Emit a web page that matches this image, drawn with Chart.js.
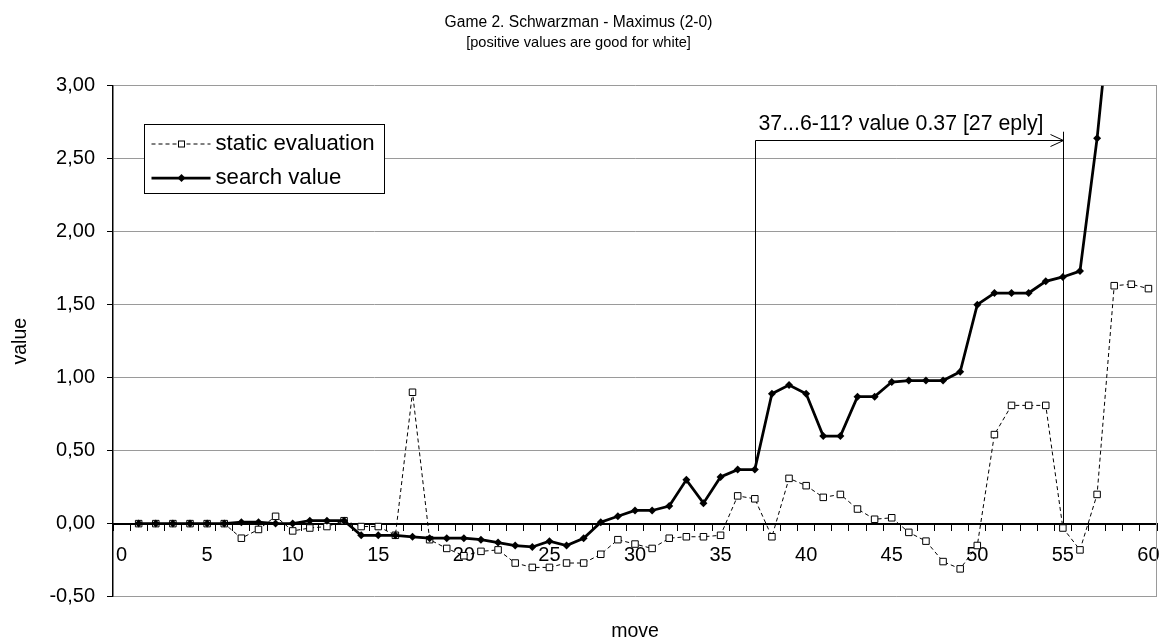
<!DOCTYPE html>
<html>
<head>
<meta charset="utf-8">
<script src="https://cdn.jsdelivr.net/npm/chart.js@4/dist/chart.umd.min.js"></script>
<style>
html,body{margin:0;padding:0;background:#fff;}
#wrap{width:1166px;height:643px;position:relative;}
</style>
</head>
<body>
<div id="wrap"><canvas id="c"></canvas></div>
<script>
// ---- data ----
const categoryLabels = [0,1,2,3,4,5,6,7,8,9,10,11,12,13,14,15,16,17,18,19,20,21,22,23,24,25,26,27,28,29,30,31,32,33,34,35,36,37,38,39,40,41,42,43,44,45,46,47,48,49,50,51,52,53,54,55,56,57,58,59,60];
const moves = [1,2,3,4,5,6,7,8,9,10,11,12,13,14,15,16,17,18,19,20,21,22,23,24,25,26,27,28,29,30,31,32,33,34,35,36,37,38,39,40,41,42,43,44,45,46,47,48,49,50,51,52,53,54,55,56,57,58,59,60];
const staticEval = [0,0,0,0,0,0,-0.10,-0.04,0.05,-0.05,
  -0.03,-0.02,0.02,-0.02,-0.02,-0.08,0.90,-0.11,-0.17,-0.22,
  -0.19,-0.18,-0.27,-0.30,-0.30,-0.27,-0.27,-0.21,-0.11,-0.14,
  -0.17,-0.10,-0.09,-0.09,-0.08,0.19,0.17,-0.09,0.31,0.26,
  0.18,0.20,0.10,0.03,0.04,-0.06,-0.12,-0.26,-0.31,-0.15,
  0.61,0.81,0.81,0.81,-0.03,-0.18,0.20,1.63,1.64,1.61];
const searchValue = [0,0,0,0,0,0,0.01,0.01,0.00,0.00,
  0.02,0.02,0.02,-0.08,-0.08,-0.08,-0.09,-0.10,-0.10,-0.10,
  -0.11,-0.13,-0.15,-0.16,-0.12,-0.15,-0.10,0.01,0.05,0.09,
  0.09,0.12,0.30,0.14,0.32,0.37,0.37,0.89,0.95,0.89,
  0.60,0.60,0.87,0.87,0.97,0.98,0.98,0.98,1.04,1.50,
  1.58,1.58,1.58,1.66,1.69,1.73,2.64,3.80,null,null];
const yMin = -0.5, yMax = 3.0, yStep = 0.5;
const seriesNames = ['static evaluation', 'search value'];
const titleText = 'Game 2. Schwarzman - Maximus (2-0)';
const subtitleText = '[positive values are good for white]';
const annText = '37...6-11? value 0.37 [27 eply]';
const annFrom = 37, annTo = 55;
const annArrowValue = 2.63, annRightTopValue = 2.685, annTextValue = 2.70;

const FONT = "'Liberation Sans', Arial, Helvetica, sans-serif";
Chart.defaults.font.family = FONT;
Chart.defaults.color = '#000';

const fmt = v => v.toFixed(2).replace('.', ',');
const toPoints = arr => moves.map((m, i) => ({x: m, y: arr[i]}));

const GRID = '#9a9a9a';

const borderPlugin = {
  id: 'plotBorder',
  beforeDatasetsDraw(chart) {
    const {ctx, chartArea: a} = chart;
    ctx.save();
    ctx.strokeStyle = GRID;
    ctx.lineWidth = 1;
    ctx.beginPath();
    ctx.moveTo(Math.round(a.right) - 0.5, a.top);
    ctx.lineTo(Math.round(a.right) - 0.5, a.bottom);
    ctx.stroke();
    ctx.restore();
  }
};

function drawSquare(ctx, x, y, s) {
  ctx.save();
  ctx.fillStyle = '#fff';
  ctx.strokeStyle = '#000';
  ctx.lineWidth = 1;
  ctx.fillRect(x - s/2, y - s/2, s, s);
  ctx.strokeRect(x - s/2, y - s/2, s, s);
  ctx.restore();
}
function drawDiamond(ctx, x, y, r) {
  ctx.save();
  ctx.fillStyle = '#000';
  ctx.beginPath();
  ctx.moveTo(x, y - r); ctx.lineTo(x + r, y); ctx.lineTo(x, y + r); ctx.lineTo(x - r, y);
  ctx.closePath();
  ctx.fill();
  ctx.restore();
}

const legendPlugin = {
  id: 'boxLegend',
  afterDraw(chart) {
    const {ctx, chartArea: a} = chart;
    const bx = Math.round(a.left + 31) + 0.5, by = Math.round(a.top + 38) + 0.5, bw = 240, bh = 69;
    ctx.save();
    ctx.fillStyle = '#fff';
    ctx.fillRect(bx, by, bw, bh);
    ctx.strokeStyle = '#000';
    ctx.lineWidth = 1;
    ctx.strokeRect(bx, by, bw, bh);
    const rows = [by + 19.5, by + 53.5];
    const ds = chart.data.datasets;
    ctx.strokeStyle = '#000';
    ctx.lineWidth = 1;
    ctx.setLineDash([4, 3]);
    ctx.beginPath(); ctx.moveTo(bx + 7, rows[0]); ctx.lineTo(bx + 66, rows[0]); ctx.stroke();
    ctx.setLineDash([]);
    drawSquare(ctx, bx + 37, rows[0], 6);
    ctx.lineWidth = 2.75;
    ctx.beginPath(); ctx.moveTo(bx + 7, rows[1]); ctx.lineTo(bx + 66, rows[1]); ctx.stroke();
    drawDiamond(ctx, bx + 37, rows[1], 4);
    ctx.fillStyle = '#000';
    ctx.font = '22.2px ' + FONT;
    ctx.textBaseline = 'middle';
    ctx.textAlign = 'left';
    ctx.fillText(ds[1].label, bx + 71, rows[0]);
    ctx.fillText(ds[0].label, bx + 71, rows[1]);
    ctx.restore();
  }
};

const annotationPlugin = {
  id: 'moveAnnotation',
  afterDatasetsDraw(chart) {
    const {ctx} = chart;
    const xs = chart.scales.x, ys = chart.scales.y;
    const x1 = Math.round(xs.getPixelForValue(annFrom)) + 0.5;
    const x2 = Math.round(xs.getPixelForValue(annTo)) + 0.5;
    const yArrow = Math.round(ys.getPixelForValue(annArrowValue)) + 0.5;
    const yRightTop = ys.getPixelForValue(annRightTopValue);
    const yLeftBottom = ys.getPixelForValue(searchValue[moves.indexOf(annFrom)]);
    const yRightBottom = ys.getPixelForValue(0);
    ctx.save();
    ctx.strokeStyle = '#000';
    ctx.lineWidth = 1;
    ctx.beginPath();
    ctx.moveTo(x1, yArrow); ctx.lineTo(x1, yLeftBottom);
    ctx.moveTo(x2, yRightTop); ctx.lineTo(x2, yRightBottom);
    ctx.moveTo(x1, yArrow); ctx.lineTo(x2, yArrow);
    ctx.moveTo(x2 - 13, yArrow - 6); ctx.lineTo(x2, yArrow); ctx.lineTo(x2 - 13, yArrow + 6);
    ctx.stroke();
    ctx.fillStyle = '#000';
    ctx.font = '21.3px ' + FONT;
    ctx.textBaseline = 'alphabetic';
    ctx.textAlign = 'left';
    ctx.fillText(annText, x1 + 3, ys.getPixelForValue(annTextValue));
    ctx.restore();
  }
};

new Chart(document.getElementById('c'), {
  type: 'line',
  data: {
    labels: categoryLabels,
    datasets: [
      {
        label: seriesNames[1],
        data: toPoints(searchValue),
        borderColor: '#000',
        borderWidth: 2.75,
        pointStyle: 'rectRot',
        pointRadius: 4,
        pointBorderWidth: 0,
        pointBackgroundColor: '#000',
        pointBorderColor: '#000',
        fill: false,
        tension: 0,
        order: 0
      },
      {
        label: seriesNames[0],
        data: toPoints(staticEval),
        borderColor: '#000',
        borderWidth: 1,
        borderDash: [4, 3],
        pointStyle: 'rect',
        pointRadius: 4.6,
        pointBorderWidth: 1,
        pointBackgroundColor: '#fff',
        pointBorderColor: '#000',
        fill: false,
        tension: 0,
        order: 1
      }
    ]
  },
  options: {
    responsive: true,
    maintainAspectRatio: false,
    animation: false,
    devicePixelRatio: 1,
    layout: {padding: {left: 0, right: 9, top: 0, bottom: 0}},
    plugins: {
      legend: {display: false},
      tooltip: {enabled: false},
      title: {display: true, text: titleText, color: '#000', font: {size: 15.6, weight: 'normal'}, padding: {top: 13, bottom: 2}},
      subtitle: {display: true, text: subtitleText, color: '#000', font: {size: 14.6, weight: 'normal'}, padding: {top: 0, bottom: 34.5}}
    },
    scales: {
      x: {
        type: 'category',
        labels: categoryLabels,
        offset: true,
        position: {y: 0},
        grid: {offset: true, drawOnChartArea: false, drawTicks: true, tickLength: 6, color: '#000', tickColor: '#000', lineWidth: 1},
        border: {display: true, color: '#000', width: 2},
        ticks: {
          autoSkip: false, maxRotation: 0, minRotation: 0, padding: 14, color: '#000', font: {size: 20},
          callback: function(v) { const l = this.getLabelForValue(v); return (Number(l) % 5 === 0) ? String(l) : ''; }
        },
        afterFit: s => { s.paddingLeft = 0; s.paddingRight = 0; }
      },
      x2: {
        type: 'linear', position: 'bottom', min: 0, max: 1,
        ticks: {display: false},
        grid: {display: false, drawTicks: false},
        border: {display: false},
        title: {display: true, text: 'move', color: '#000', font: {size: 19.5}, padding: {top: 23, bottom: 0}}
      },
      y: {
        type: 'linear', position: 'left', min: yMin, max: yMax,
        ticks: {stepSize: yStep, color: '#000', font: {size: 20}, padding: 12, callback: v => fmt(v)},
        grid: {
          color: c => (c.tick && Math.abs(c.tick.value) < 1e-9) ? 'rgba(0,0,0,0)' : GRID,
          tickColor: '#000', tickLength: 6, lineWidth: 1
        },
        border: {color: '#000', width: 1.5},
        title: {display: true, text: 'value', color: '#000', font: {size: 19.5}, padding: {top: 9, bottom: 0}},
        afterFit: s => { s.width = 113; }
      }
    }
  },
  plugins: [borderPlugin, annotationPlugin, legendPlugin]
});
</script>
</body>
</html>
